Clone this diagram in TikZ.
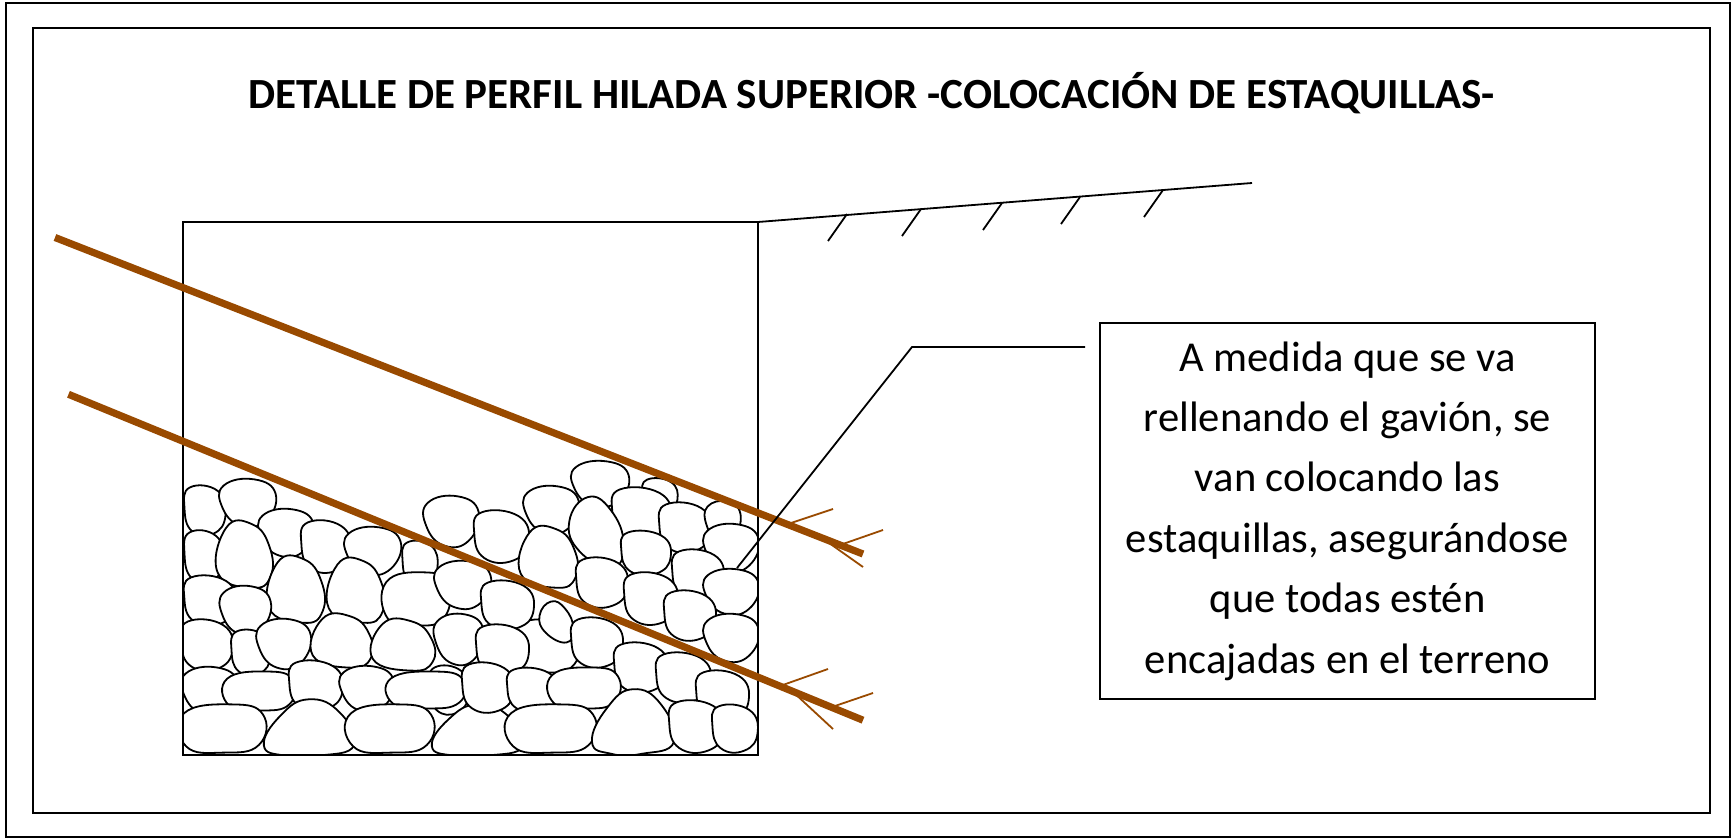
\documentclass[tikz,border=0pt]{standalone}
\usepackage{fontspec}
\setmainfont{Carlito}
\definecolor{stakebrown}{RGB}{153,74,0}

% pebble outlines in unit coordinates (y grows downward)
\def\rkA{plot[smooth cycle,tension=0.8] coordinates {(-0.9,-0.7) (0.2,-0.95) (0.95,-0.35) (0.6,0.75) (-0.3,0.95) (-0.95,0.2)}}
\def\rkB{plot[smooth cycle,tension=0.8] coordinates {(-0.7,-0.95) (0.6,-0.8) (0.95,0.2) (0.4,0.95) (-0.6,0.85) (-0.95,-0.1)}}
\def\rkC{plot[smooth cycle,tension=0.8] coordinates {(-0.95,-0.6) (0.2,-0.95) (0.95,-0.55) (0.85,0.65) (0,0.95) (-0.9,0.7)}}
\def\rkD{plot[smooth cycle,tension=0.8] coordinates {(-0.3,-0.95) (0.5,-0.6) (0.95,0.3) (0.55,0.95) (-0.6,0.5) (-0.95,-0.3)}}
\def\rkE{plot[smooth cycle,tension=0.8] coordinates {(-0.6,-0.85) (0.3,-0.95) (0.9,-0.3) (0.95,0.6) (0.3,0.95) (-0.9,0.5)}}
\def\rkF{plot[smooth cycle,tension=0.8] coordinates {(-0.95,0.6) (-0.6,-0.4) (0,-0.95) (0.65,-0.5) (0.95,0.6) (0.2,0.95) (-0.5,0.95)}}

% \rock{shape}{x1}{y1}{x2}{y2}: a pebble fitted into a box, slightly enlarged so neighbours touch
\newcommand\rock[5]{%
  \begin{scope}[shift={({(#2+#4)/2},{(#3+#5)/2})},xscale={0.54*(#4-#2)},yscale={0.54*(#5-#3)}]
    \path[rockline] #1;
  \end{scope}}

\begin{document}
\begin{tikzpicture}[x=0.5pt,y=-0.5pt,
  frame/.style={draw=black,line width=1pt},
  rockline/.style={draw=black,line width=0.9pt,fill=white},
  stake/.style={draw=stakebrown,line width=3.6pt},
  twig/.style={draw=stakebrown,line width=0.9pt},
  thin/.style={draw=black,line width=0.9pt}]
\useasboundingbox (0,0) rectangle (1732,839);
\fill[white] (0,0) rectangle (1732,839);

% page frames
\draw[frame] (6,3) rectangle (1730,837);
\draw[frame] (33,28) rectangle (1710,813);

\node (title) at (871.5,109) [anchor=base,font=\bfseries\fontsize{21.5}{25}\selectfont]
  {DETALLE DE PERFIL HILADA SUPERIOR -COLOCACIÓN DE ESTAQUILLAS-};

% stone fill of the gabion, kept inside the cage
\begin{scope}
\clip (183,150) rectangle (758,755);
\rock{\rkC}{512}{620}{577}{672}
\rock{\rkB}{185}{488}{225}{533}
\rock{\rkA}{223}{480}{275}{525}
\rock{\rkA}{262}{510}{313}{555}
\rock{\rkB}{302}{523}{350}{570}
\rock{\rkA}{348}{528}{400}{573}
\rock{\rkB}{403}{543}{437}{583}
\rock{\rkA}{427}{497}{478}{545}
\rock{\rkB}{185}{533}{223}{580}
\rock{\rkE}{217}{525}{270}{587}
\rock{\rkE}{268}{560}{322}{622}
\rock{\rkE}{328}{562}{382}{622}
\rock{\rkC}{387}{573}{447}{625}
\rock{\rkA}{438}{562}{490}{607}
\rock{\rkB}{185}{578}{235}{623}
\rock{\rkA}{223}{587}{270}{633}
\rock{\rkB}{182}{622}{232}{668}
\rock{\rkB}{232}{632}{270}{673}
\rock{\rkA}{260}{620}{310}{667}
\rock{\rkE}{312}{617}{370}{667}
\rock{\rkE}{372}{622}{432}{670}
\rock{\rkA}{437}{615}{483}{663}
\rock{\rkB}{430}{668}{468}{712}
\rock{\rkA}{185}{668}{237}{713}
\rock{\rkC}{228}{672}{292}{710}
\rock{\rkB}{290}{663}{342}{708}
\rock{\rkA}{343}{667}{393}{710}
\rock{\rkC}{392}{672}{462}{708}
\rock{\rkC}{185}{705}{262}{752}
\rock{\rkF}{265}{700}{353}{755}
\rock{\rkC}{352}{705}{430}{752}
\rock{\rkF}{433}{705}{522}{755}
\rock{\rkA}{575}{462}{628}{505}
\rock{\rkB}{643}{480}{677}{512}
\rock{\rkA}{527}{487}{578}{532}
\rock{\rkB}{475}{513}{528}{560}
\rock{\rkB}{613}{490}{670}{537}
\rock{\rkD}{570}{498}{623}{567}
\rock{\rkB}{660}{505}{710}{550}
\rock{\rkA}{707}{502}{740}{540}
\rock{\rkE}{520}{530}{575}{587}
\rock{\rkB}{622}{533}{670}{573}
\rock{\rkA}{707}{525}{758}{570}
\rock{\rkB}{577}{560}{627}{605}
\rock{\rkB}{673}{552}{723}{597}
\rock{\rkB}{482}{583}{533}{627}
\rock{\rkB}{625}{575}{677}{622}
\rock{\rkA}{707}{570}{758}{613}
\rock{\rkD}{540}{602}{573}{642}
\rock{\rkB}{572}{620}{622}{665}
\rock{\rkB}{665}{593}{715}{638}
\rock{\rkA}{707}{615}{758}{660}
\rock{\rkB}{477}{627}{528}{672}
\rock{\rkB}{615}{645}{667}{690}
\rock{\rkB}{657}{655}{710}{700}
\rock{\rkB}{463}{665}{513}{710}
\rock{\rkB}{508}{670}{557}{710}
\rock{\rkC}{553}{668}{617}{708}
\rock{\rkB}{697}{673}{748}{718}
\rock{\rkC}{512}{705}{592}{752}
\rock{\rkF}{593}{690}{673}{753}
\rock{\rkB}{670}{703}{723}{750}
\rock{\rkB}{713}{707}{757}{750}
\end{scope}

% gabion outline and sloping ground
\draw[thin] (183,222) rectangle (758,755);
\coordinate (crest) at (758,222);
\coordinate (groundend) at (1252,183);
\draw[thin] (crest) -- (groundend);
\foreach \hx/\hy in {847/214,921/209,1002/203,1080/197,1163/190}
  \draw[thin] (\hx,\hy) -- ++(-19,27);

% stakes with their side shoots
\coordinate (upA) at (55,237.5);
\coordinate (upB) at (863,554);
\coordinate (loA) at (68.5,394.3);
\coordinate (loB) at (863,720.2);
\draw[twig] (788,524) -- (833,509);
\draw[twig] (840,545) -- (883,530);
\draw[twig] (822,538) -- (863,567);
\draw[twig] (780,686) -- (828,669);
\draw[twig] (832,707) -- (873,693);
\draw[twig] (792,691) -- (833,729);
\draw[stake] (upA) -- (upB);
\draw[stake] (loA) -- (loB);

% explanatory note and its leader
\node (note) at (1347.5,511) [draw,line width=0.8pt,minimum width=247.5pt,minimum height=188pt,
  align=center,font=\fontsize{21.3}{30.2}\selectfont]
  {A medida que se va\\ rellenando el gavión, se\\ van colocando las\\ estaquillas, asegurándose\\ que todas estén\\ encajadas en el terreno};
\coordinate (leadstart) at (1085,347);
\coordinate (leadknee) at (912,347);
\coordinate (leadend) at (737,568);
\draw[thin] (leadstart) -- (leadknee) -- (leadend);
\end{tikzpicture}
\end{document}
